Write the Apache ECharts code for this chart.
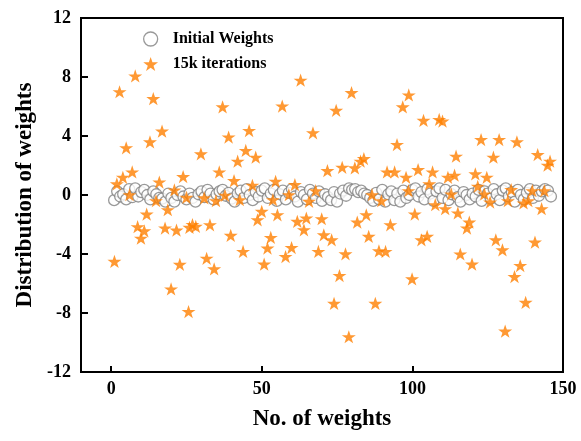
<!DOCTYPE html>
<html>
<head>
<meta charset="utf-8">
<script src="https://cdn.jsdelivr.net/npm/echarts@6/dist/echarts.min.js"></script>
<style>html,body{margin:0;padding:0;background:#fff;}#c{width:581px;height:441px;}</style>
</head>
<body>
<div id="c"></div>
<script>
const xTicks = [0, 50, 100, 150];
const yTicks = [-12, -8, -4, 0, 4, 8, 12];
const seriesNames = ['Initial Weights', '15k iterations'];

// Initial weights: index 1..146
const initialWeights = [
  -0.35, 0.25, -0.1, 0.05, -0.3, 0.4, -0.15, 0.45, -0.1, 0.2,
  0.35, 0.0, -0.3, 0.25, 0.05, -0.2, -0.25, -0.45, 0.1, -0.2,
  -0.45, 0.0, 0.25, -0.1, -0.3, 0.1, -0.2, -0.45, 0.05, 0.25,
  -0.15, 0.35, 0.1, -0.3, 0.05, 0.25, 0.35, -0.05, 0.15, -0.25,
  -0.45, 0.1, 0.3, -0.2, 0.4, 0.0, -0.35, 0.2, -0.1, 0.3,
  0.45, -0.2, 0.1, 0.35, -0.4, 0.05, 0.3, -0.3, 0.15, 0.4,
  -0.1, -0.45, 0.2, 0.0, -0.3, 0.35, 0.1, -0.2, 0.25, -0.4,
  0.05, -0.15, -0.35, 0.2, -0.45, 0.1, 0.3, -0.05, 0.45, 0.35,
  0.4, 0.2, 0.3, 0.1, 0.0, -0.2, -0.4, 0.15, -0.3, 0.35,
  -0.45, 0.05, 0.25, -0.35, 0.1, -0.45, 0.3, -0.2, 0.0, 0.35,
  0.45, -0.1, 0.2, -0.3, 0.4, 0.1, -0.4, 0.25, 0.45, -0.2,
  0.35, -0.35, 0.05, 0.3, -0.15, -0.45, 0.2, 0.0, -0.3, 0.1,
  -0.1, 0.35, -0.4, 0.25, 0.1, -0.25, 0.4, 0.05, -0.35, 0.3,
  0.45, -0.1, 0.2, -0.45, 0.35, 0.0, -0.3, 0.15, 0.4, -0.2,
  0.3, -0.05, 0.25, 0.4, 0.3, -0.1
];

// 15k iterations: [index, value]
const iter15k = [
  [8.0,8.07],[2.8,7.0],[14.0,6.53],[16.9,4.33],[12.9,3.6],[5.0,3.2],[7.0,1.56],[3.9,1.2],[1.9,0.75],[16.0,0.88],
  [23.9,1.25],[21.0,0.34],[6.1,0.02],[14.9,-0.39],[25.0,-0.16],[18.8,-1.0],[11.8,-1.3],[8.8,-2.15],[17.9,-2.24],[21.7,-2.38],
  [26.0,-2.2],[11.0,-2.43],[9.9,-2.93],[1.1,-4.5],[22.8,-4.7],[19.9,-6.37],[25.7,-7.9],
  [37.0,5.97],[56.8,6.03],[45.8,4.37],[39.0,3.93],[29.8,2.79],[44.7,3.02],[48.0,2.56],[42.0,2.29],[35.9,1.56],[40.8,0.97],
  [46.9,0.66],[54.6,0.93],[30.9,-0.2],[34.8,-0.39],[37.8,-0.02],[42.7,-0.32],[53.7,-0.32],[50.0,-1.11],[48.6,-1.68],[55.2,-1.34],
  [27.0,-2.0],[28.1,-2.13],[32.8,-2.02],[39.7,-2.74],[53.0,-2.88],[51.9,-3.6],[43.8,-3.83],[31.7,-4.29],[34.2,-5.01],[50.8,-4.69],
  [62.9,7.78],[79.8,6.94],[74.7,5.74],[67.0,4.22],[71.8,1.65],[76.7,1.88],[80.9,1.84],[82.8,2.29],[83.9,2.47],[61.0,0.7],
  [59.0,0.02],[67.9,0.29],[65.7,-0.43],[61.8,-1.79],[64.8,-1.56],[64.0,-2.36],[69.9,-1.61],[70.6,-2.7],[73.2,-3.04],[81.7,-1.84],
  [84.7,-1.34],[85.5,-2.81],[59.9,-3.56],[57.9,-4.17],[68.8,-3.83],[77.8,-3.99],[75.8,-5.46],[74.0,-7.35],[78.9,-9.61],
  [98.8,6.78],[96.8,5.97],[103.7,5.06],[108.9,5.12],[110.0,5.01],[94.9,3.42],[114.5,2.63],[91.6,1.56],[94.1,1.56],[97.9,1.2],
  [101.9,1.72],[106.7,1.56],[111.8,1.2],[114.0,1.34],[105.6,0.75],[86.6,0.02],[89.7,-0.39],[98.7,0.29],[112.9,0.07],[107.6,-0.66],
  [110.9,-0.93],[100.8,-1.29],[115.1,-1.22],[92.7,-2.02],[103.0,-3.04],[104.9,-2.81],[88.9,-3.79],[91.1,-3.83],[115.9,-4.0],[99.9,-5.69],
  [87.7,-7.35],
  [122.8,3.76],[128.8,3.76],[134.7,3.6],[141.6,2.74],[145.7,2.29],[144.9,2.02],[126.9,2.56],[120.9,1.43],[124.7,1.2],[121.7,0.59],
  [123.9,0.07],[125.8,-0.48],[132.8,0.36],[131.7,-0.39],[136.9,-0.54],[138.5,-0.39],[139.8,0.29],[143.8,0.29],[142.9,-0.93],[118.9,-1.84],
  [118.1,-2.24],[127.7,-3.04],[129.9,-3.72],[140.7,-3.2],[119.8,-4.69],[135.8,-4.78],[133.9,-5.53],[137.6,-7.28],[130.8,-9.23]
];

const initialData = initialWeights.map((v, i) => [i + 1, v]);
const STAR = 'path://M50,0 L61.8,35.3 L99,35.3 L69,57.3 L80.3,92.7 L50,71 L19.7,92.7 L31,57.3 L1,35.3 L38.2,35.3 Z';
const FONT = '"Liberation Serif", "Times New Roman", serif';

const chart = echarts.init(document.getElementById('c'), null, {renderer: 'canvas'});
chart.setOption({
  animation: false,
  backgroundColor: '#fff',
  grid: {left: 81, right: 18, top: 18, bottom: 69, show: true, borderColor: '#000', borderWidth: 2, backgroundColor: 'transparent'},
  legend: {
    orient: 'vertical', left: 138, top: 26, itemWidth: 24, itemHeight: 14, itemGap: 9,
    textStyle: {fontFamily: FONT, fontWeight: 'bold', fontSize: 16, color: '#000', padding: [0, 0, 0, 5]},
    data: [
      {name: seriesNames[0], icon: 'circle', itemStyle: {color: '#fff', borderColor: '#808080', borderWidth: 1.3}},
      {name: seriesNames[1], icon: STAR, itemStyle: {color: '#FF8000', borderWidth: 0}}
    ]
  },
  xAxis: {
    type: 'value', min: -10, max: 150,
    name: 'No. of weights', nameLocation: 'middle', nameGap: 36,
    nameTextStyle: {fontFamily: FONT, fontWeight: 'bold', fontSize: 23, color: '#000'},
    axisLine: {show: true, onZero: false, lineStyle: {color: '#000', width: 2}},
    axisTick: {show: true, inside: true, length: 6, lineStyle: {color: '#000', width: 2}, customValues: xTicks},
    axisLabel: {fontFamily: FONT, fontWeight: 'bold', fontSize: 18, color: '#000', margin: 8, customValues: xTicks},
    splitLine: {show: false}
  },
  yAxis: {
    type: 'value', min: -12, max: 12, interval: 4,
    name: 'Distribution of weights', nameLocation: 'middle', nameGap: 43,
    nameTextStyle: {fontFamily: FONT, fontWeight: 'bold', fontSize: 23, color: '#000'},
    axisLine: {show: true, onZero: false, lineStyle: {color: '#000', width: 2}},
    axisTick: {show: true, inside: true, length: 7, lineStyle: {color: '#000', width: 2}},
    axisLabel: {fontFamily: FONT, fontWeight: 'bold', fontSize: 18, color: '#000', margin: 10},
    splitLine: {show: false}
  },
  series: [
    {
      name: seriesNames[0], type: 'scatter', data: initialData,
      symbol: 'circle', symbolSize: 11,
      itemStyle: {color: '#fff', borderColor: '#808080', borderWidth: 1.3},
      z: 2
    },
    {
      name: seriesNames[1], type: 'scatter', data: iter15k,
      symbol: STAR, symbolSize: 14, symbolKeepAspect: true,
      itemStyle: {color: '#FF8000'},
      z: 3
    }
  ]
});
</script>
</body>
</html>
